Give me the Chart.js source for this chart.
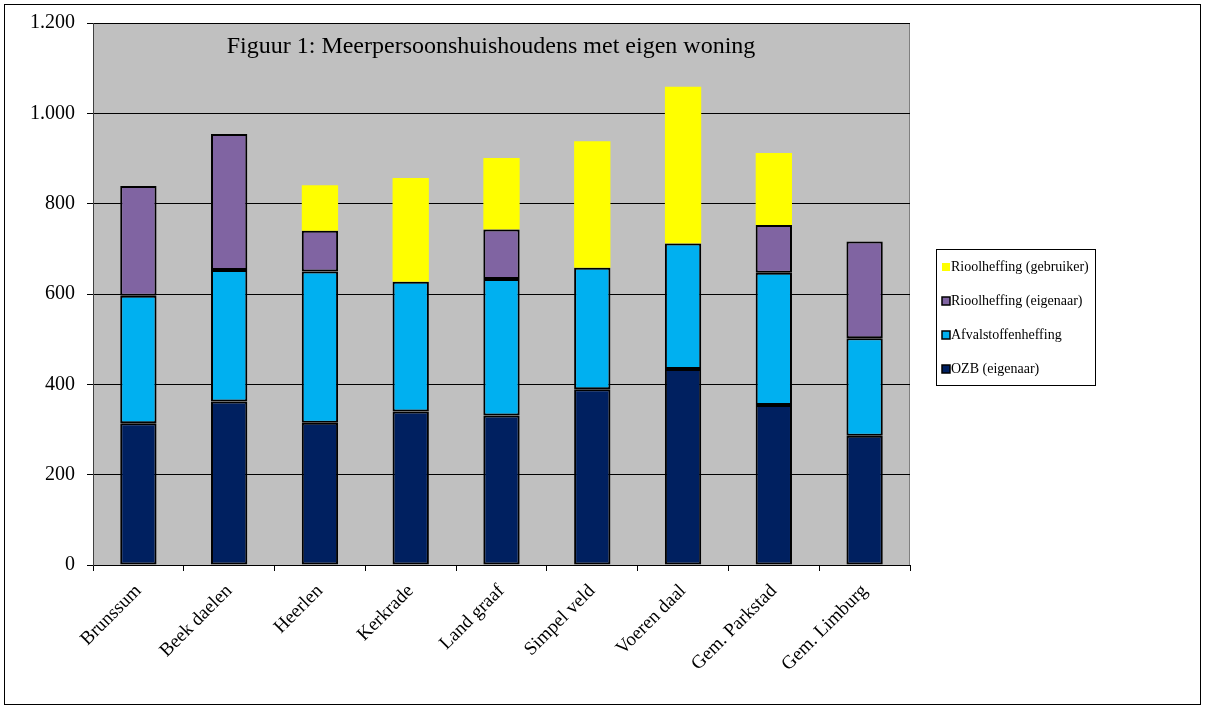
<!DOCTYPE html>
<html>
<head>
<meta charset="utf-8">
<script src="https://cdn.jsdelivr.net/npm/chart.js@4"></script>
<style>
  html, body { margin: 0; padding: 0; background: #fff; }
  #wrap { width: 1208px; height: 709px; position: relative; }
</style>
</head>
<body>
<div id="wrap"><canvas id="chart"></canvas></div>
<script>
// data
const categories = ['Brunssum', 'Beek daelen', 'Heerlen', 'Kerkrade', 'Land graaf', 'Simpel veld', 'Voeren daal', 'Gem. Parkstad', 'Gem. Limburg'];
const ozb       = [314, 362, 315, 340, 331, 389, 434, 354, 286];
const afval     = [282, 291, 335, 287, 302, 269, 278, 293, 216];
const rioolEig  = [243, 301,  90, null, 110, null, null, 106, 214];
const rioolGebr = [null, null, 101, 230, 158, 280, 347, 159, null];
const yTicks    = [0, 200, 400, 600, 800, 1000, 1200];

const TITLE = 'Figuur 1: Meerpersoonshuishoudens met eigen woning';
const SERIF = "'Times New Roman', 'Liberation Serif', serif";

const fmt = v => String(v).replace(/\B(?=(\d{3})+(?!\d))/g, '.');

/* ---- background, title, legend, frame ---- */
const decor = {
  id: 'decor',
  beforeDraw(chart) {
    const { ctx, chartArea: a } = chart;
    ctx.save();
    ctx.fillStyle = '#fff';
    ctx.fillRect(0, 0, chart.width, chart.height);
    ctx.fillStyle = '#C0C0C0';
    ctx.fillRect(a.left, a.top, a.right - a.left, a.bottom - a.top);
    ctx.strokeStyle = '#808080';
    ctx.lineWidth = 1;
    ctx.strokeRect(a.left + 0.5, a.top + 0.5, a.right - a.left - 1, a.bottom - a.top);
    ctx.restore();
  },
  afterDraw(chart) {
    const { ctx } = chart;
    ctx.save();
    // outer frame
    ctx.strokeStyle = '#000';
    ctx.lineWidth = 1;
    ctx.strokeRect(4.5, 4.5, 1196, 700);

    // title inside the plot
    ctx.fillStyle = '#000';
    ctx.font = '24px ' + SERIF;
    ctx.textAlign = 'center';
    ctx.textBaseline = 'middle';
    ctx.fillText(TITLE, 491, 47);

    // legend box (reversed order: top series first)
    const bx = 936.5, by = 249.5, bw = 159, bh = 136;
    ctx.strokeStyle = '#000';
    ctx.strokeRect(bx, by, bw, bh);
    const ds = chart.data.datasets.slice().reverse();
    ctx.font = '14px ' + SERIF;
    ctx.textAlign = 'left';
    ds.forEach((d, i) => {
      const y = 267 + i * 34;
      ctx.fillStyle = d.backgroundColor;
      ctx.fillRect(942, y - 4, 8, 8);
      if (d.borderWidth) {
        ctx.strokeStyle = '#000';
        ctx.lineWidth = 1.5;
        ctx.strokeRect(942, y - 4, 8, 8);
      }
      ctx.fillStyle = '#000';
      ctx.fillText(d.label, 951, y);
    });
    ctx.restore();
  }
};

const mk = (label, data, color, border) => ({
  label, data,
  backgroundColor: color,
  borderColor: '#000',
  borderWidth: border ? 2 : 0,
  borderSkipped: false,
  categoryPercentage: 1,
  barPercentage: 0.4
});

new Chart(document.getElementById('chart'), {
  type: 'bar',
  data: {
    labels: categories,
    datasets: [
      mk('OZB (eigenaar)', ozb, '#002060', true),
      mk('Afvalstoffenheffing', afval, '#00B0F0', true),
      mk('Rioolheffing (eigenaar)', rioolEig, '#8064A2', true),
      mk('Rioolheffing (gebruiker)', rioolGebr, '#FFFF00', false)
    ]
  },
  options: {
    responsive: true,
    maintainAspectRatio: false,
    animation: false,
    layout: { padding: { top: 23, right: 298, left: 0, bottom: 0 } },
    plugins: {
      legend: { display: false },
      tooltip: { enabled: false }
    },
    scales: {
      x: {
        stacked: true,
        afterFit: s => { s.height = 709 - 565; },
        grid: { drawOnChartArea: false, drawTicks: true, tickLength: 6, color: '#000' },
        border: { display: true, color: '#000' },
        ticks: {
          minRotation: 45, maxRotation: 45,
          color: '#000', padding: 9,
          font: { family: SERIF, size: 19 }
        }
      },
      y: {
        stacked: true,
        min: 0, max: 1200,
        afterFit: s => { s.width = 93; s.paddingTop = 0; s.paddingBottom = 0; },
        afterBuildTicks: s => { s.ticks = yTicks.map(v => ({ value: v })); },
        grid: { color: '#000', lineWidth: 1, tickLength: 6 },
        border: { display: true, color: '#404040' },
        ticks: {
          color: '#000', padding: 12,
          font: { family: SERIF, size: 20 },
          callback: v => fmt(v)
        }
      }
    }
  },
  plugins: [decor]
});
</script>
</body>
</html>
